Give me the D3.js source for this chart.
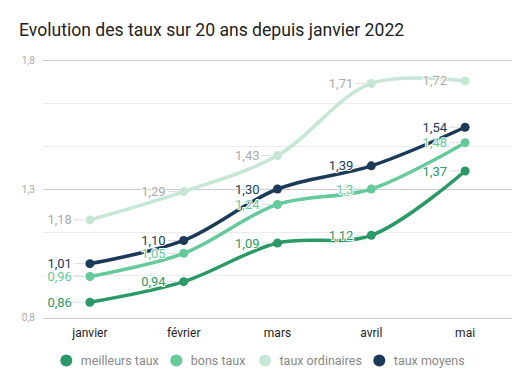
<!DOCTYPE html>
<html><head><meta charset="utf-8">
<script src="https://cdn.jsdelivr.net/npm/d3@7"></script>
<style>
body{margin:0;background:#fff;font-family:Roboto,"Noto Sans",sans-serif;}
</style></head>
<body><svg id="c" width="532" height="387"></svg>
<script>
const months = ["janvier","février","mars","avril","mai"];
const seriesNames = ["meilleurs taux","bons taux","taux ordinaires","taux moyens"];
const meilleursTaux = [0.86,0.94,1.09,1.12,1.37];
const bonsTaux = [0.96,1.05,1.24,1.30,1.48];
const tauxOrdinaires = [1.18,1.29,1.43,1.71,1.72];
const tauxMoyens = [1.01,1.10,1.30,1.39,1.54];
const labelTexts = {
  "meilleurs taux":["0,86","0,94","1,09","1,12","1,37"],
  "bons taux":["0,96","1,05","1,24","1,3","1,48"],
  "taux ordinaires":["1,18","1,29","1,43","1,71","1,72"],
  "taux moyens":["1,01","1,10","1,30","1,39","1,54"]
};
const yTicks = [0.8,1.3,1.8];
const title = "Evolution des taux sur 20 ans depuis janvier 2022";

const colors = {"meilleurs taux":"#2b9967","bons taux":"#64ca9c","taux ordinaires":"#c6e6d6","taux moyens":"#1b3a58"};
const labelColors = {"meilleurs taux":"#2b9967","bons taux":"#64ca9c","taux ordinaires":"#aaaaaa","taux moyens":"#1b3a58"};
const values = {"meilleurs taux":meilleursTaux,"bons taux":bonsTaux,"taux ordinaires":tauxOrdinaires,"taux moyens":tauxMoyens};

const svg = d3.select("#c");
const x = d3.scalePoint().domain(months).range([43,512]).padding(0.5);
const y = d3.scaleLinear().domain([0.8,1.8]).range([317.7,60.3]);

svg.append("text").attr("x",19).attr("y",36).attr("font-size",17.6).attr("fill","#222").text(title);

// grid
const minor = d3.range(0,7).map(i=>0.8+i*(1/6));
svg.append("g").selectAll("line").data(minor).join("line")
  .attr("x1",43).attr("x2",512).attr("y1",d=>Math.round(y(d))+0.5).attr("y2",d=>Math.round(y(d))+0.5)
  .attr("stroke",(d,i)=>i%3===0?"#cccccc":"#ececec").attr("stroke-width",1);
svg.append("g").selectAll("text").data(yTicks).join("text")
  .attr("x",35).attr("y",d=>y(d)).attr("dy","0.35em").attr("text-anchor","end")
  .attr("font-size",10).attr("fill","#aaa").text(d=>String(d).replace(".",","));

// x labels
svg.append("g").selectAll("text").data(months).join("text")
  .attr("x",d=>x(d)).attr("y",333).attr("dy","0.35em").attr("text-anchor","middle")
  .attr("font-size",12).attr("fill","#222").text(d=>d);

const line = d3.line().x((d,i)=>x(months[i])).y(d=>y(d)).curve(d3.curveCatmullRom.alpha(0.5));

const order = ["taux ordinaires","bons taux","meilleurs taux","taux moyens"];
order.forEach(s=>{
  svg.append("path").datum(values[s]).attr("d",line).attr("fill","none")
    .attr("stroke",colors[s]).attr("stroke-width",3.5).attr("stroke-linecap","round");
});
order.forEach(s=>{
  const g = svg.append("g");
  g.selectAll("line").data(values[s]).join("line")
    .attr("x1",(d,i)=>x(months[i])-16).attr("x2",(d,i)=>x(months[i])-6)
    .attr("y1",d=>y(d)).attr("y2",d=>y(d)).attr("stroke","#dddddd").attr("stroke-width",1);
  g.selectAll("circle").data(values[s]).join("circle")
    .attr("cx",(d,i)=>x(months[i])).attr("cy",d=>y(d)).attr("r",4.5).attr("fill",colors[s]);
});
order.forEach(s=>{
  svg.append("g").selectAll("text").data(values[s]).join("text")
    .attr("x",(d,i)=>x(months[i])-18).attr("y",d=>y(d)).attr("dy","0.35em")
    .attr("text-anchor","end").attr("font-size",13).attr("fill",labelColors[s])
    .attr("stroke","#fff").attr("stroke-width",2).attr("paint-order","stroke")
    .text((d,i)=>labelTexts[s][i]);
});

// legend
const legX = [66.3,176.3,265,379.3];
const leg = svg.append("g");
seriesNames.forEach((s,i)=>{
  leg.append("circle").attr("cx",legX[i]).attr("cy",360.5).attr("r",6).attr("fill",colors[s]);
  leg.append("text").attr("x",legX[i]+14.5).attr("y",360.5).attr("dy","0.35em")
    .attr("font-size",12.5).attr("fill","#888").text(s);
});
</script></body></html>
